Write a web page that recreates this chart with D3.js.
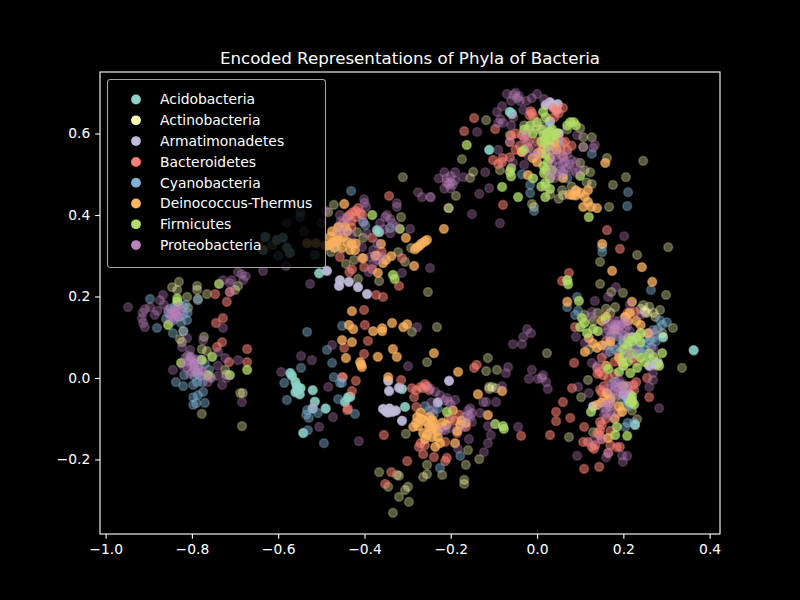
<!DOCTYPE html>
<html>
<head>
<meta charset="utf-8">
<script src="https://cdn.jsdelivr.net/npm/d3@7"></script>
<style>
  html, body { margin: 0; padding: 0; background: #000; }
  text { font-family: "DejaVu Sans", sans-serif; fill: #fff; }
</style>
</head>
<body>
<div id="chart"></div>
<script>
var phyla = ["Acidobacteria", "Actinobacteria", "Armatimonadetes", "Bacteroidetes", "Cyanobacteria", "Deinococcus-Thermus", "Firmicutes", "Proteobacteria"];
var colors = ["#8dd3c7", "#feffb3", "#bfbbd9", "#fa8174", "#81b1d2", "#fdb462", "#b3de69", "#bc82bd"];
var alphas = [0.9, 0.35, 0.95, 0.55, 0.45, 0.75, 0.75, 0.35];
var xTicks = [-1.0, -0.8, -0.6, -0.4, -0.2, 0.0, 0.2, 0.4];
var yTicks = [-0.2, 0.0, 0.2, 0.4, 0.6];

var acidobacteria = [[0.363,0.068],[-0.557,-0.02],[-0.555,-0.03],[-0.56,-0.01],[-0.55,-0.04],[-0.553,-0.025],[-0.548,-0.025],[-0.56,-0.035],[-0.52,-0.03],[-0.515,-0.058],[-0.52,-0.075],[-0.49,-0.075],[-0.542,-0.135],[-0.572,0.012],[-0.568,0.005],[-0.438,-0.047],[-0.445,-0.059],[-0.505,0.257],[-0.433,-0.046],[-0.306,-0.071],[-0.313,-0.027],[-0.371,0.363],[-0.366,0.358],[-0.111,0.56],[-0.063,0.653],[-0.058,0.648],[0.292,0.1],[0.227,-0.115],[-0.635,0.314],[-0.63,0.346],[-0.603,0.339],[-0.589,0.344],[-0.573,0.307],[-0.58,0.32]];

var actinobacteria = [[-0.232,0.125],[-0.29,0.113],[-0.255,0.039],[-0.114,0.049],[-0.118,0.017],[-0.093,0.02],[-0.111,-0.022],[-0.111,-0.027],[-0.095,-0.025],[-0.104,-0.022],[-0.304,-0.137],[-0.16,-0.177],[-0.134,-0.199],[-0.165,-0.213],[-0.169,-0.25],[-0.169,-0.26],[-0.366,-0.231],[-0.32,-0.24],[-0.325,-0.238],[-0.299,-0.267],[-0.306,-0.275],[-0.32,-0.292],[-0.297,-0.304],[-0.334,-0.331],[-0.345,-0.267],[-0.255,-0.213],[-0.255,-0.236],[-0.264,-0.243],[-0.22,-0.238],[-0.205,-0.1],[-0.255,-0.11],[-0.174,0.537],[-0.118,0.633],[-0.148,0.506],[-0.155,0.491],[-0.086,0.51],[-0.188,0.447],[-0.204,0.417],[0.246,0.533],[0.206,0.493],[0.176,0.474],[0.167,0.42],[0.162,0.54],[0.127,0.591],[0.107,0.591],[0.1,0.613],[0.123,0.505],[0.127,0.476],[0.115,0.48],[0.058,0.461],[-0.012,0.427],[-0.007,0.42],[0.06,0.449],[0.304,0.321],[0.1,0.528],[0.107,0.567],[-0.063,0.596],[-0.03,0.62],[0.0,0.61],[0.146,0.285],[0.232,0.302],[0.199,0.209],[0.146,0.231],[0.172,0.211],[0.299,0.204],[0.255,0.16],[0.25,0.16],[0.285,0.167],[0.274,0.15],[0.246,0.179],[0.315,0.123],[0.181,0.174],[0.023,0.061],[0.074,-0.145],[0.336,0.025],[0.118,-0.005],[0.102,-0.047],[0.232,-0.101],[0.13,-0.133],[0.07,0.24],[0.11,0.155],[0.205,0.15],[-0.311,0.493],[-0.471,0.425],[-0.484,0.407],[-0.461,0.371],[-0.403,0.344],[-0.417,0.358],[-0.443,0.28],[-0.424,0.29],[-0.415,0.243],[-0.322,0.309],[-0.292,0.319],[-0.306,0.285],[-0.253,0.211],[-0.366,0.238],[-0.206,0.417],[-0.315,0.395],[-0.478,0.309],[-0.83,0.236],[-0.846,0.223],[-0.834,0.216],[-0.788,0.226],[-0.788,0.216],[-0.765,0.206],[-0.811,0.199],[-0.786,0.194],[-0.809,0.172],[-0.82,0.115],[-0.772,0.101],[-0.828,0.096],[-0.823,0.088],[-0.777,0.071],[-0.765,0.066],[-0.723,0.02],[-0.72,0.008],[-0.688,-0.037],[-0.682,-0.037],[-0.777,-0.088],[-0.684,-0.118],[-0.693,0.226],[-0.7,0.216],[-0.758,0.002],[-0.614,0.326],
[0.0,0.62],[-0.02,0.61],[0.02,0.62],[0.05,0.6],[0.07,0.61],[0.02,0.47],[0.03,0.45],[0.08,0.47],[0.09,0.46],[0.05,0.44],[0.11,0.51],[0.24,0.17],[0.25,0.165],[0.26,0.175],[0.27,0.16],[0.29,0.11],[0.27,0.04],[0.28,0.04],[0.14,0.16],[0.17,0.16],[0.16,0.17],[0.13,0.14],[0.12,0.07],[0.17,-0.07],[0.16,-0.06],[0.18,-0.05],[0.2,-0.07],[0.22,-0.08]];

var armatimonadetes = [[-0.357,-0.076],[-0.35,-0.082],[-0.342,-0.075],[-0.345,-0.085],[-0.335,-0.083],[-0.327,-0.08],[-0.313,-0.105],[-0.343,-0.032],[-0.345,-0.007],[-0.32,-0.024],[-0.204,-0.007],[-0.487,0.263],[-0.457,0.24],[-0.459,0.226],[-0.436,0.236],[-0.415,0.223],[-0.394,0.206],[0.03,0.677],[0.048,0.672],[0.04,0.665],[0.274,0.032],[0.28,0.036],[0.215,-0.04],[0.13,-0.07],[0.05,0.6],[0.03,0.63],[0.22,0.1],[-0.23,-0.06],[0.035,0.67],[0.045,0.66],[0.02,0.67],[0.26,0.03],[0.2,-0.04],[0.21,-0.05],[0.22,-0.06]];

var bacteroidetes = [[-0.146,0.638],[-0.169,0.606],[-0.097,0.611],[-0.079,0.425],[-0.012,0.65],[-0.017,0.645],[-0.035,0.596],[-0.03,0.59],[-0.063,0.579],[0.06,0.577],[0.05,0.59],[-0.035,0.555],[-0.102,0.535],[-0.081,0.53],[0.037,0.663],[0.06,0.663],[0.162,0.363],[0.192,0.317],[-0.063,0.542],[-0.02,0.58],[-0.025,0.6],[0.055,0.565],[0.07,0.56],[0.035,0.56],[0.074,0.258],[0.058,0.238],[0.088,0.125],[0.227,0.162],[0.086,0.037],[0.139,0.025],[0.145,0.015],[0.153,0.007],[0.081,-0.025],[0.06,-0.059],[0.044,-0.083],[0.044,-0.106],[0.077,-0.098],[0.109,-0.12],[0.03,-0.14],[0.109,-0.223],[0.144,-0.218],[0.223,-0.017],[0.255,0.0],[0.26,-0.047],[0.146,-0.029],[0.15,-0.035],[0.165,-0.042],[0.146,-0.108],[0.146,-0.128],[0.118,-0.157],[0.127,-0.169],[0.132,-0.174],[0.107,-0.157],[0.192,-0.169],[0.165,-0.184],[0.188,-0.086],[0.225,-0.03],[0.14,-0.135],[0.15,-0.15],[-0.427,0.407],[-0.415,0.417],[-0.435,0.4],[-0.42,0.395],[-0.343,0.447],[-0.313,0.294],[-0.457,0.297],[-0.429,0.267],[-0.435,0.26],[-0.401,0.272],[-0.382,0.267],[-0.32,0.226],[-0.357,0.199],[-0.373,0.204],[-0.382,0.344],[-0.406,0.294],[-0.401,0.167],[-0.399,0.13],[-0.392,0.091],[-0.401,0.059],[-0.447,0.074],[-0.45,0.002],[-0.42,-0.007],[-0.438,-0.076],[-0.355,-0.14],[-0.315,-0.005],[-0.29,-0.025],[-0.27,-0.022],[-0.255,-0.02],[-0.285,-0.047],[-0.28,-0.071],[-0.274,-0.169],[-0.264,-0.187],[-0.239,-0.194],[-0.209,-0.196],[-0.213,-0.204],[-0.301,-0.204],[-0.338,-0.231],[-0.352,-0.26],[-0.146,0.025],[-0.14,0.032],[-0.037,-0.142],[-0.185,-0.135],[-0.165,-0.12],[-0.213,-0.157],[-0.429,-0.032],[-0.719,0.187],[-0.746,0.206],[-0.712,0.211],[-0.744,0.135],[-0.728,0.147],[-0.73,0.088],[-0.742,0.076],[-0.672,0.071],[-0.714,0.039],[-0.672,0.039],[-0.452,0.002],[-0.44,-0.079],[0.16,0.09],[0.2,0.03],[0.18,0.01],[0.19,0.06],[0.23,0.04],
[0.0,0.58],[0.01,0.56],[-0.02,0.565],[-0.04,0.57],[0.06,0.545],[0.065,0.58],[0.08,0.57],[0.045,0.58],[0.04,0.64],[0.05,0.65],[0.045,0.655],[-0.015,0.655],[-0.008,0.64],[-0.05,0.6],[-0.05,0.56],[-0.08,0.54],[-0.09,0.525],[-0.06,0.595],[0.17,0.08],[0.2,0.085],[0.21,0.16],[0.22,0.05],[0.24,0.11],[0.18,0.04],[0.15,0.05],[0.14,0.01],[0.165,0.0],[0.17,-0.06],[0.155,-0.05],[0.16,-0.1],[0.17,-0.13],[0.15,-0.115],[0.145,-0.14],[0.135,-0.165],[0.17,-0.165],[0.185,-0.17],[0.21,-0.02],[0.23,-0.01],[0.155,-0.02],[-0.44,0.395],[-0.43,0.385],[-0.41,0.405],[-0.42,0.41],[-0.405,0.4],[-0.45,0.38],[-0.43,0.37],[-0.37,0.3],[-0.36,0.31],[-0.28,-0.03],[-0.265,-0.025],[-0.26,-0.015],[-0.25,-0.03],[-0.22,-0.12],[-0.2,-0.1],[-0.19,-0.105],[-0.18,-0.09],[-0.27,-0.16],[-0.26,-0.165]];

var cyanobacteria = [[-0.897,0.194],[-0.881,0.123],[-0.844,0.11],[-0.82,0.115],[-0.811,0.142],[-0.786,0.191],[-0.815,0.18],[-0.85,0.17],[-0.83,0.15],[-0.845,0.14],[-0.825,0.135],[-0.837,-0.01],[-0.82,-0.02],[-0.818,0.007],[-0.797,-0.017],[-0.788,-0.01],[-0.775,-0.01],[-0.786,-0.042],[-0.797,-0.047],[-0.797,-0.066],[-0.79,-0.062],[-0.77,-0.061],[-0.774,-0.034],[-0.788,0.012],[-0.804,0.052],[-0.795,0.035],[-0.785,0.02],[-0.533,0.113],[-0.547,0.025],[-0.487,0.069],[-0.475,0.037],[-0.471,0.002],[-0.457,-0.012],[-0.452,0.128],[-0.586,-0.012],[-0.58,-0.054],[-0.533,-0.079],[-0.529,-0.098],[-0.535,-0.09],[-0.508,-0.086],[-0.531,-0.128],[-0.494,-0.16],[-0.461,-0.052],[-0.603,0.339],[-0.635,0.314],[-0.63,0.346],[-0.573,0.307],[-0.589,0.344],[-0.549,0.395],[-0.549,0.407],[-0.6,0.3],[-0.515,0.302],[-0.016,0.454],[-0.007,0.41],[0.127,0.55],[0.211,0.456],[0.209,0.422],[0.151,0.321],[-0.035,0.5],[-0.016,0.474],[-0.431,0.459],[-0.403,0.383],[-0.464,0.319],[-0.341,0.368],[-0.398,0.375],[0.151,0.309],[0.264,0.216],[0.093,0.199],[0.07,0.174],[0.088,0.155],[0.095,0.165],[0.301,0.137],[0.262,0.093],[0.255,0.086],[0.27,0.1],[0.25,0.1],[0.192,0.076],[0.18,0.07],[0.269,0.118],[0.239,0.069],[0.22,0.08],[0.23,0.1],[0.24,0.085],[0.169,0.064],[0.265,0.075],[0.275,0.09],[0.204,-0.12],[0.285,0.142],[-0.26,-0.069],[-0.225,-0.221],[-0.178,-0.191],[-0.422,-0.088],[-0.452,-0.012],[-0.24,-0.09],[-0.25,-0.08],[-0.23,-0.075],
[0.2,0.09],[0.21,0.09],[0.24,0.06],[0.25,0.07],[0.23,0.06],[0.26,0.11],[0.26,0.05],[0.21,0.07],[0.17,0.1],[0.16,0.08],[0.19,0.1],[0.28,0.12],[0.29,0.13],[0.18,-0.01],[0.2,-0.05],[0.21,-0.07],[0.225,-0.11],[0.21,-0.11],[-0.84,0.175],[-0.83,0.18],[-0.82,0.175],[-0.855,0.16],[-0.82,0.155],[-0.81,0.16],[-0.86,0.145],[-0.77,0.035],[-0.78,0.005],[-0.76,0.02],[-0.795,0.005],[-0.78,0.045],[0.05,0.58],[0.03,0.62],[0.02,0.55],[0.06,0.5],[0.07,0.49]];

var deinococcus = [[-0.429,0.164],[-0.336,0.135],[-0.359,0.122],[-0.359,0.115],[-0.38,0.115],[-0.426,0.12],[-0.436,0.13],[-0.301,0.132],[-0.31,0.125],[-0.452,0.093],[-0.429,0.088],[-0.443,0.049],[-0.41,0.039],[-0.406,0.027],[-0.408,0.033],[-0.369,0.052],[-0.334,0.071],[-0.325,0.052],[-0.239,0.061],[-0.081,-0.032],[-0.137,-0.04],[-0.183,0.015],[-0.345,0.002],[-0.278,-0.096],[-0.287,-0.12],[-0.276,-0.118],[-0.264,-0.135],[-0.243,-0.103],[-0.236,-0.123],[-0.243,-0.145],[-0.236,-0.169],[-0.178,-0.115],[-0.19,-0.16],[-0.195,-0.079],[-0.114,-0.091],[-0.25,-0.12],[-0.26,-0.15],[-0.24,-0.11],[-0.23,-0.13],[-0.27,-0.085],[-0.48,0.346],[-0.473,0.334],[-0.464,0.356],[-0.445,0.371],[-0.44,0.334],[-0.452,0.319],[-0.433,0.314],[-0.422,0.314],[-0.482,0.326],[-0.465,0.335],[-0.45,0.345],[-0.447,0.427],[-0.362,0.329],[-0.304,0.344],[-0.338,0.299],[-0.357,0.282],[-0.285,0.275],[-0.369,0.258],[-0.403,0.294],[-0.278,0.321],[-0.267,0.331],[-0.255,0.339],[-0.283,0.316],[-0.272,0.325],[-0.26,0.335],[-0.216,0.366],[-0.533,0.331],[-0.512,0.331],[-0.49,0.325],[0.158,0.528],[0.151,0.329],[0.107,0.42],[0.139,0.417],[0.118,0.432],[0.083,0.449],[0.09,0.448],[0.06,0.491],[0.118,0.461],[-0.021,0.498],[0.002,0.552],[-0.035,0.555],[0.019,0.579],[0.03,0.57],[0.075,0.45],[0.174,0.263],[0.243,0.272],[0.267,0.236],[0.07,0.187],[0.22,0.187],[0.12,0.098],[0.111,0.064],[0.139,0.074],[0.257,0.11],[0.204,0.15],[0.197,0.039],[0.162,-0.037],[0.197,-0.083],[0.165,-0.147],[0.139,-0.066],[0.215,0.16],
[0.01,0.55],[0.03,0.54],[0.015,0.565],[-0.01,0.54],[0.0,0.53],[0.045,0.56],[0.04,0.58],[0.09,0.46],[0.1,0.455],[0.11,0.445],[0.125,0.42],[0.18,0.12],[0.17,0.09],[0.13,0.085],[0.15,0.08],[0.15,0.14],[0.16,0.15],[0.21,0.14],[0.23,0.14],[0.24,0.13],[0.16,0.03],[0.19,0.05],[0.17,-0.05],[0.19,-0.07],[0.18,-0.1],[0.15,-0.06],[-0.47,0.32],[-0.46,0.34],[-0.43,0.33],[-0.42,0.33],[-0.44,0.36],[-0.46,0.37],[-0.475,0.36],[-0.375,0.3],[-0.35,0.29],[-0.26,-0.105],[-0.25,-0.095],[-0.245,-0.125],[-0.255,-0.14],[-0.23,-0.145],[-0.22,-0.11],[-0.21,-0.115],[-0.27,-0.1],[-0.28,-0.11],[-0.175,-0.105],[-0.165,-0.11],[-0.185,-0.13],[-0.225,-0.16]];

var firmicutes = [[0.023,0.6],[0.03,0.605],[0.015,0.595],[0.04,0.595],[0.077,0.628],[0.085,0.628],[0.014,0.653],[-0.016,0.62],[0.0,0.628],[0.025,0.53],[0.02,0.51],[0.016,0.503],[-0.063,0.506],[-0.06,0.495],[-0.163,0.572],[-0.081,0.469],[-0.044,0.444],[0.019,0.444],[0.03,0.464],[0.019,0.479],[0.12,0.395],[0.1,0.496],[-0.009,0.49],[0.07,0.24],[0.072,0.23],[0.097,0.189],[0.104,0.147],[0.1,0.125],[0.116,0.11],[0.141,0.115],[0.158,0.145],[0.211,0.098],[0.239,0.088],[0.29,0.061],[0.269,0.052],[0.25,0.039],[0.199,0.052],[0.232,0.025],[0.216,0.012],[0.165,0.022],[0.19,0.015],[0.22,-0.054],[0.22,-0.045],[0.125,-0.083],[0.209,-0.142],[0.181,-0.14],[0.185,-0.12],[0.283,0.03],[-0.382,0.4],[-0.318,0.366],[-0.334,0.253],[-0.33,0.243],[-0.209,-0.083],[-0.097,-0.113],[-0.079,-0.118],[-0.077,-0.125],[-0.737,0.231],[-0.834,0.187],[-0.834,0.195],[-0.855,0.13],[-0.753,0.052],[-0.672,0.02],[-0.763,0.007],[-0.825,0.037],[-0.712,0.007],[-0.777,0.044],
[0.01,0.61],[0.02,0.59],[0.035,0.61],[0.03,0.585],[0.045,0.6],[0.025,0.57],[0.01,0.58],[0.07,0.62],[0.09,0.62],[0.02,0.64],[0.02,0.55],[0.03,0.49],[0.015,0.52],[0.035,0.51],[0.01,0.47],[-0.03,0.61],[-0.01,0.6],[-0.03,0.56],[-0.06,0.515],[0.22,0.09],[0.23,0.1],[0.2,0.07],[0.21,0.08],[0.22,0.06],[0.24,0.05],[0.2,0.03],[0.21,0.04],[0.24,0.11],[0.26,0.06],[0.11,0.135],[0.13,0.12],[0.225,-0.065],[0.215,-0.06],[0.2,-0.02]];

var proteobacteria = [[-0.948,0.174],[-0.916,0.147],[-0.914,0.16],[-0.909,0.169],[-0.913,0.135],[-0.909,0.125],[-0.897,0.174],[-0.886,0.155],[-0.88,0.165],[-0.867,0.204],[-0.874,0.191],[-0.865,0.18],[-0.855,0.167],[-0.845,0.165],[-0.839,0.16],[-0.843,0.15],[-0.835,0.17],[-0.825,0.165],[-0.85,0.155],[-0.84,0.145],[-0.83,0.175],[-0.83,0.15],[-0.85,0.145],[-0.84,0.16],[-0.835,0.155],
[-0.823,0.076],[-0.804,0.069],[-0.815,0.05],[-0.804,0.045],[-0.795,0.035],[-0.785,0.03],[-0.81,0.025],[-0.8,0.015],[-0.78,0.02],[-0.77,0.005],[-0.755,0.0],[-0.74,0.005],[-0.763,-0.01],[-0.73,-0.017],[-0.844,0.02],[-0.72,0.0],[-0.739,0.064],[-0.723,0.049],[-0.693,0.044],[-0.74,0.03],[-0.811,0.098],[-0.774,0.093],[-0.728,0.123],[-0.82,0.03],[-0.81,0.04],[-0.8,0.05],[-0.8,0.03],[-0.79,0.045],[-0.79,0.015],[-0.805,0.01],[-0.8,0.04],[-0.81,0.055],[-0.795,0.025],[-0.785,0.01],[-0.775,0.015],
[-0.693,0.26],[-0.681,0.24],[-0.675,0.25],[-0.712,0.233],[-0.728,0.24],[-0.708,0.24],[-0.685,0.255],[-0.712,0.211],[-0.635,0.263],[-0.582,0.275],[-0.526,0.231],[-0.547,0.054],[-0.522,0.044],[-0.593,0.015],[-0.484,-0.022],[-0.473,-0.096],[-0.505,-0.12],[-0.519,-0.071],[-0.684,-0.059],[-0.475,0.081],[-0.413,-0.155],[-0.299,0.029],[-0.278,0.125],[-0.056,0.083],[-0.035,0.083],[-0.032,0.101],[-0.023,0.12],[-0.014,0.11],[-0.012,0.02],[-0.019,-0.002],[0.002,-0.002],[-0.067,0.027],[-0.072,0.012],[-0.081,-0.02],[-0.095,-0.059],[-0.118,-0.059],[-0.125,-0.059],[-0.114,-0.118],[-0.107,-0.14],[-0.114,-0.16],[-0.123,-0.182],[-0.044,-0.12],[-0.158,-0.15],[-0.183,-0.174],
[-0.16,-0.091],[-0.155,-0.074],[-0.151,-0.086],[-0.167,-0.096],[-0.132,-0.086],[-0.172,-0.12],[-0.151,-0.108],[-0.19,-0.054],[-0.209,-0.049],[-0.225,-0.042],[-0.236,-0.034],[-0.248,-0.025],[-0.241,-0.079],[-0.213,-0.128],[-0.202,-0.123],[-0.22,-0.128],[-0.215,-0.055],[-0.205,-0.058],[-0.2,-0.065],[-0.245,-0.06],[-0.16,-0.08],[-0.155,-0.095],
[-0.228,0.49],[-0.215,0.505],[-0.2,0.495],[-0.19,0.485],[-0.205,0.475],[-0.215,0.465],[-0.2,0.465],[-0.19,0.505],[-0.21,0.49],[-0.2,0.48],[-0.21,0.48],[-0.195,0.475],[-0.248,0.444],[-0.171,0.493],[-0.12,0.505],[-0.111,0.466],[-0.134,0.452],[-0.151,0.402],[-0.086,0.38],[0.202,0.348],[-0.139,0.604],
[-0.07,0.697],[-0.046,0.687],[-0.042,0.692],[-0.055,0.695],[-0.04,0.68],[-0.06,0.68],[-0.05,0.7],[0.0,0.697],[-0.012,0.687],[0.016,0.685],[-0.081,0.667],[-0.093,0.653],[-0.09,0.626],[-0.079,0.626],[-0.085,0.635],[-0.025,0.68],[-0.032,0.658],[-0.055,0.64],[-0.06,0.62],[-0.063,0.579],[-0.023,0.577],[-0.03,0.595],[0.134,0.572],[0.093,0.596],[-0.09,0.56],[-0.056,0.528],[-0.03,0.523],[0.107,0.567],[0.13,0.565],
[0.03,0.56],[0.04,0.545],[0.05,0.555],[0.06,0.54],[0.07,0.55],[0.08,0.535],[0.09,0.53],[0.035,0.525],[0.05,0.52],[0.06,0.525],[0.07,0.515],[0.08,0.51],[0.04,0.505],[0.05,0.495],[0.06,0.505],[0.09,0.505],[0.03,0.5],[0.045,0.535],[0.065,0.53],[0.055,0.51],[0.075,0.525],[0.04,0.49],[0.1,0.51],[0.0,0.55],[-0.01,0.56],[-0.02,0.545],
[0.134,0.189],[0.183,0.223],[0.165,0.199],[0.127,0.162],[0.09,0.101],[0.111,0.086],[0.127,0.037],[0.014,0.007],[0.021,-0.01],[0.011,0.0],[0.025,-0.027],[0.095,-0.022],[0.12,-0.037],[0.269,0.012],[0.269,-0.005],[0.26,-0.022],[0.283,-0.074],[0.093,-0.191],[0.199,-0.206],[0.209,-0.191],[0.197,-0.19],[0.165,-0.184],[0.16,-0.195],[0.13,-0.155],[0.15,-0.15],
[0.158,0.13],[0.165,0.12],[0.17,0.135],[0.175,0.115],[0.18,0.13],[0.185,0.105],[0.19,0.125],[0.195,0.11],[0.2,0.135],[0.205,0.12],[0.21,0.13],[0.175,0.125],[0.185,0.12],[0.195,0.13],[0.17,0.105],[0.16,0.11],[0.2,0.105],[0.18,0.14],[0.19,0.14],[0.215,0.115],[0.205,0.14],[0.185,0.13],
[0.165,-0.025],[0.175,-0.015],[0.18,-0.03],[0.185,-0.01],[0.19,-0.025],[0.195,-0.035],[0.2,-0.015],[0.205,-0.03],[0.21,-0.02],[0.185,-0.04],[0.175,-0.035],[0.195,-0.02],[0.19,-0.005],[0.2,-0.04],[0.18,-0.02],
[0.15,-0.07],[0.16,-0.085],[0.165,-0.065],[0.17,-0.08],[0.155,-0.09],[0.175,-0.095],[0.16,-0.075],[0.17,-0.06],
[0.23,0.07],[0.27,0.07],[0.24,0.155],[0.215,0.18],[0.125,0.15],[0.27,0.11],[0.14,0.03],[0.16,0.06],[0.21,0.06],
[-0.401,0.439],[-0.396,0.42],[-0.4,0.43],[-0.325,0.429],[-0.325,0.42],[-0.276,0.456],[-0.267,0.444],[-0.246,0.444],[-0.248,0.27],[-0.403,0.383],[-0.364,0.38],[-0.348,0.4],[-0.34,0.39],[-0.325,0.371],[-0.34,0.355],[-0.352,0.395],[-0.294,0.366],[-0.406,0.321],[-0.38,0.314],[-0.387,0.297],[-0.37,0.33],[-0.36,0.297],[-0.395,0.355],[-0.43,0.35],[-0.445,0.36],[-0.46,0.36],[-0.455,0.385],[-0.44,0.39],[-0.457,0.4],[-0.313,0.258],[-0.335,0.38],[-0.355,0.365],[-0.38,0.28],[-0.39,0.26],[-0.37,0.29],[-0.58,0.38],[-0.565,0.43],[-0.54,0.36],[-0.5,0.38],[-0.49,0.41]];

var allPhyla = [acidobacteria, actinobacteria, armatimonadetes, bacteroidetes, cyanobacteria, deinococcus, firmicutes, proteobacteria];

var svgWidth = 800, svgHeight = 600;
var margin = {top: 72, right: 80, bottom: 66, left: 100};
var width = svgWidth - margin.left - margin.right;
var height = svgHeight - margin.top - margin.bottom;

var svg = d3.select("#chart").append("svg")
  .attr("width", svgWidth)
  .attr("height", svgHeight)
  .style("display", "block")
  .style("background", "#000");

var x = d3.scaleLinear().domain([-1.013, 0.424]).range([0, width]);
var y = d3.scaleLinear().domain([-0.383, 0.751]).range([height, 0]);

var g = svg.append("g").attr("transform", "translate(" + margin.left + "," + margin.top + ")");

var fmt = function(d) { return d3.format(".1f")(d).replace("-", "\u2212"); };

// points, one group per phylum so later phyla sit on top
allPhyla.forEach(function(points, i) {
  g.append("g").selectAll("circle")
    .data(points)
    .enter().append("circle")
    .attr("cx", function(d) { return x(d[0]); })
    .attr("cy", function(d) { return y(d[1]); })
    .attr("r", 4.4)
    .attr("fill", colors[i])
    .attr("stroke", colors[i])
    .attr("stroke-width", 1.6)
    .attr("fill-opacity", alphas[i])
    .attr("stroke-opacity", alphas[i] * 0.7);
});

// axes
var xAxis = g.append("g")
  .attr("transform", "translate(0," + height + ")")
  .call(d3.axisBottom(x).tickValues(xTicks).tickFormat(fmt).tickSize(4.86).tickPadding(4.86));
var yAxis = g.append("g")
  .call(d3.axisLeft(y).tickValues(yTicks).tickFormat(fmt).tickSize(4.86).tickPadding(4.86));
[xAxis, yAxis].forEach(function(a) {
  a.select(".domain").remove();
  a.selectAll("line").attr("stroke", "#fff").attr("stroke-width", 1.11);
  a.selectAll("text").style("font-size", "13.89px").attr("fill", "#fff");
});

// frame
g.append("rect")
  .attr("width", width).attr("height", height)
  .attr("fill", "none").attr("stroke", "#fff").attr("stroke-width", 1.11);

// title
svg.append("text")
  .attr("x", margin.left + width / 2)
  .attr("y", 64)
  .attr("text-anchor", "middle")
  .style("font-size", "16.67px")
  .text("Encoded Representations of Phyla of Bacteria");

// legend
var legend = svg.append("g").attr("transform", "translate(107.5,79.5)");
legend.append("rect")
  .attr("width", 218).attr("height", 188)
  .attr("rx", 2.8).attr("ry", 2.8)
  .attr("fill", "#000").attr("fill-opacity", 0.8)
  .attr("stroke", "#ccc").attr("stroke-opacity", 0.8).attr("stroke-width", 1.11);
var rows = legend.selectAll(".row").data(phyla).enter().append("g")
  .attr("class", "row")
  .attr("transform", function(d, i) { return "translate(0," + (20 + i * 20.8) + ")"; });
rows.append("circle")
  .attr("cx", 28.5).attr("r", 4.17)
  .attr("fill", function(d, i) { return colors[i]; })
  .attr("stroke", function(d, i) { return colors[i]; })
  .attr("stroke-width", 1.5);
rows.append("text")
  .attr("x", 52.5).attr("y", 4.8)
  .style("font-size", "13.89px")
  .text(function(d) { return d; });
</script>
</body>
</html>
